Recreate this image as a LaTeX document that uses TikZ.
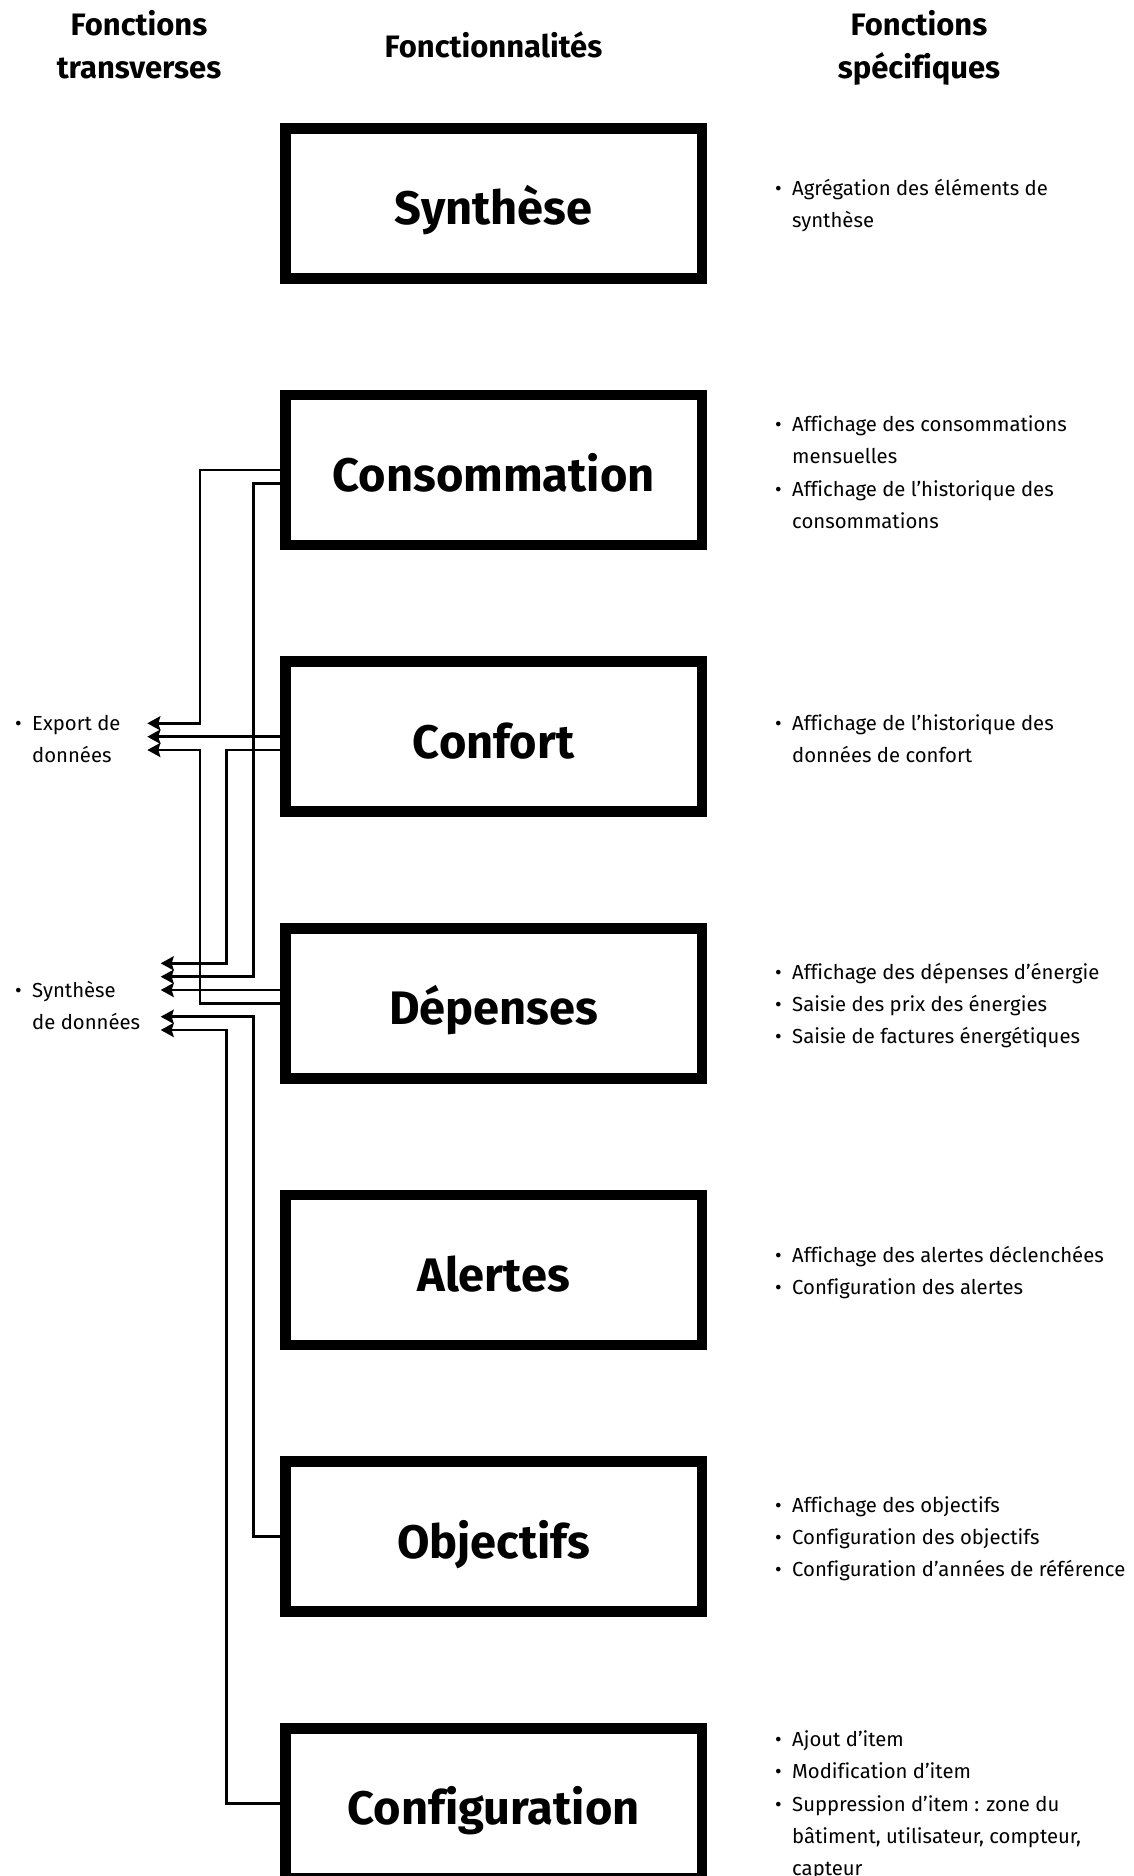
\documentclass[tikz,border=0pt]{standalone}
\usepackage{fontspec}
\setmainfont{Fira Sans}[Ligatures=NoCommon]
\usetikzlibrary{arrows.meta,calc}
\newcommand\bul{\makebox[17pt][l]{•}}
\newcommand\cnt{\hspace*{17pt}}
\tikzset{
  fbox/.style={draw=black,line width=10.5pt,minimum width=416.6pt,minimum height=150pt,inner sep=0pt,
    text height=43pt,text depth=0pt,font=\fontsize{47}{50}\selectfont\bfseries},
  head/.style={align=center,inner sep=0pt,font=\fontsize{31}{43}\selectfont\bfseries},
  desc/.style={anchor=west,align=left,inner sep=0pt,font=\fontsize{20.3}{32.3}\selectfont},
  conn/.style={line width=2.6pt,-{Stealth[length=13pt,width=14pt,inset=2pt]}}
}
\begin{document}
\begin{tikzpicture}[x=1pt,y=-1pt]
\clip (0,0) rectangle (1133,1876);
\fill[white] (0,0) rectangle (1133,1876);
% headers
\node[head] (h1) at (139,45) {Fonctions\\transverses};
\node[head] (h2) at (493.5,45) {Fonctionnalités};
\node[head] (h3) at (919,47.5) {Fonctions\\spécifiques};
% boxes
\node[fbox] (syn) at (493.6,203.3) {Synthèse};
\node[fbox] (cons) at (493.6,470) {Consommation};
\node[fbox] (conf) at (493.6,736.7) {Confort};
\node[fbox] (dep) at (493.6,1003.3) {Dépenses};
\node[fbox] (ale) at (493.6,1270) {Alertes};
\node[fbox] (obj) at (493.6,1536.7) {Objectifs};
\node[fbox] (cfg) at (493.6,1803.3) {Configuration};
% right descriptions
\node[desc] (d1) at (775,205.5) {\bul Agrégation des éléments de\\\cnt synthèse};
\node[desc] (d2) at (775,472.2) {\bul Affichage des consommations\\\cnt mensuelles\\\bul Affichage de l’historique des\\\cnt consommations};
\node[desc] (d3) at (775,738.9) {\bul Affichage de l’historique des\\\cnt données de confort};
\node[desc] (d4) at (775,1005.5) {\bul Affichage des dépenses d’énergie\\\bul Saisie des prix des énergies\\\bul Saisie de factures énergétiques};
\node[desc] (d5) at (775,1272.2) {\bul Affichage des alertes déclenchées\\\bul Configuration des alertes};
\node[desc] (d6) at (775,1538.9) {\bul Affichage des objectifs\\\bul Configuration des objectifs\\\bul Configuration d’années de référence};
\node[desc] (d7) at (775,1805.5) {\bul Ajout d’item\\\bul Modification d’item\\\bul Suppression d’item : zone du\\\cnt bâtiment, utilisateur, compteur,\\\cnt capteur};
% left descriptions
\node[desc] (exp) at (15,738.9) {\bul Export de\\\cnt données};
\node[desc] (syd) at (15,1005.5) {\bul Synthèse\\\cnt de données};
% arrow tips
\coordinate (e1) at (147.3,723.3);
\coordinate (e2) at (147.3,736.7);
\coordinate (e3) at (147.3,750);
\coordinate (s1) at (160.7,963.3);
\coordinate (s2) at (160.7,976.7);
\coordinate (s3) at (160.7,990);
\coordinate (s4) at (160.7,1016.7);
\coordinate (s5) at (160.7,1030);
% connectors
\draw[conn] (cons.west) -- (200,470) |- (e1);
\draw[conn] ($(cons.west)+(0,13.3)$) -- (253.3,483.3) |- (s2);
\draw[conn] (conf.west) -- (e2);
\draw[conn] ($(conf.west)+(0,13.3)$) -- (226.7,750) |- (s1);
\draw[conn] ($(dep.west)+(0,-13.3)$) -- (s3);
\draw[conn] (dep.west) -- (200,1003.3) |- (e3);
\draw[conn] (obj.west) -- (253.3,1536.7) |- (s4);
\draw[conn] (cfg.west) -- (226.7,1803.3) |- (s5);
\end{tikzpicture}
\end{document}
